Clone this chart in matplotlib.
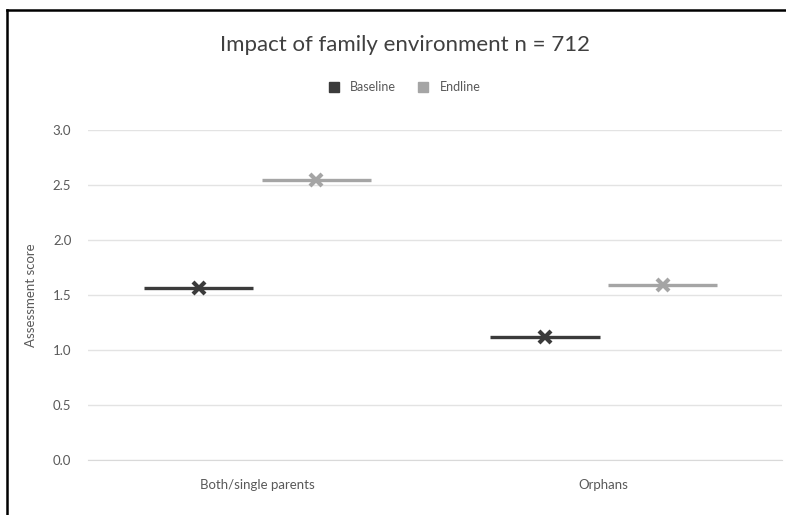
import matplotlib
matplotlib.use("Agg")
import matplotlib.pyplot as plt
from matplotlib.lines import Line2D
import numpy as np

# Data
categories = ["Both/single parents", "Orphans"]
baseline = [1.56, 1.12]
endline = [2.54, 1.59]
series_names = ["Baseline", "Endline"]
colors = ["#3b3b3b", "#a5a5a5"]

plt.rcParams['font.family'] = ['Lato', 'DejaVu Sans']

fig = plt.figure(figsize=(7.86, 5.15), dpi=100)
ax = fig.add_axes([0.112, 0.107, 0.883, 0.641])

x = np.arange(len(categories))
offset = 0.17
half = 0.158
for vals, off, col in [(baseline, -offset, colors[0]), (endline, offset, colors[1])]:
    for xi, v in zip(x, vals):
        ax.plot([xi + off - half, xi + off + half], [v, v], color=col, lw=2.4,
                solid_capstyle="butt", zorder=3)
        ax.plot(xi + off, v, marker="x", ms=9, mew=3, color=col, zorder=4)

ax.set_xlim(-0.49, 1.515)
ax.set_ylim(0, 3.0)
ax.set_yticks(np.arange(0, 3.01, 0.5))
ax.set_yticklabels([f"{t:.1f}" for t in np.arange(0, 3.01, 0.5)])
ax.set_xticks(x)
ax.set_xticklabels(categories)
ax.grid(axis="y", color="#e3e3e3", lw=1)
ax.set_axisbelow(True)
for s in ["top", "right", "left"]:
    ax.spines[s].set_visible(False)
ax.spines["bottom"].set_color("#d9d9d9")
ax.tick_params(axis="both", length=0, colors="#595959", labelsize=9.5)
ax.tick_params(axis="x", pad=14)
ax.tick_params(axis="y", pad=12)
ax.set_ylabel("Assessment score", color="#595959", fontsize=9.5, labelpad=11)

fig.text(0.515, 0.913, "Impact of family environment n = 712", ha="center",
         va="center", fontsize=16, color="#404040")

handles = [Line2D([], [], marker="s", ls="", color=c, ms=7) for c in colors]
fig.legend(handles, series_names, loc="center", bbox_to_anchor=(0.51, 0.831),
           ncol=2, frameon=False, fontsize=9, handletextpad=0.3,
           columnspacing=1.2, labelcolor="#595959")

# image frame (left and top edges)
fig.add_artist(Line2D([7 / 786, 7 / 786], [0, 1 - 10 / 515], color="black", lw=1.8,
                      transform=fig.transFigure))
fig.add_artist(Line2D([7 / 786, 1], [1 - 10 / 515, 1 - 10 / 515], color="black", lw=1.8,
                      transform=fig.transFigure))

fig.savefig("out.png", dpi=100, facecolor="white")
